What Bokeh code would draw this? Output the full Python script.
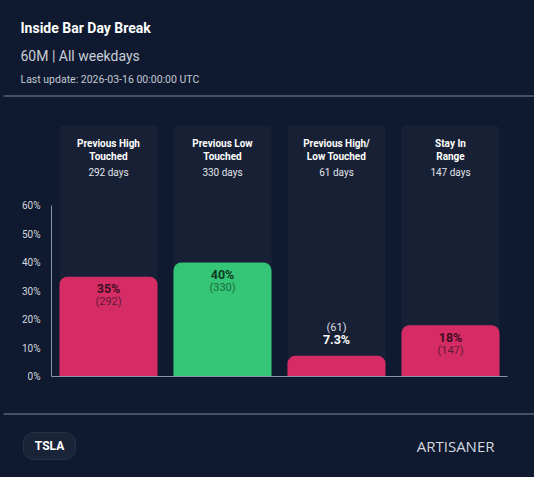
from bokeh.plotting import figure
from bokeh.models import (Range1d, ColumnDataSource, PrintfTickFormatter, FixedTicker,
                          LinearAxis)
from bokeh.core.properties import value
from bokeh.embed import file_html
from bokeh.resources import INLINE

# ---- data ----
categories = ["Previous High Touched", "Previous Low Touched",
              "Previous High/Low Touched", "Stay In Range"]
header_lines = ["Previous High\nTouched", "Previous Low\nTouched",
                "Previous High/\nLow Touched", "Stay In\nRange"]
day_counts = [292, 330, 61, 147]
percentages = [35, 40, 7.3, 18]
bar_colors = ["#d62c66", "#34c577", "#d62c66", "#d62c66"]
y_ticks = [0, 10, 20, 30, 40, 50, 60]

BG = "#0f1a30"
PANEL = "#172034"
RULE = "#7c8696"
AXIS = "#8a93a2"
FONT = value("Roboto")
W, H = 534, 477

# chart area on the page: left/right edge of the category band, baseline row
LEFT, RIGHT, BOTTOM = 51, 507, 376
STEP = (RIGHT - LEFT) / len(categories)   # pixels per category slot
PX_PER_PCT = 2.85                          # pixels per percentage point
PANEL_TOP = 88                             # top of the column panels, in %

# x in category slots (slot i spans i..i+1), y in percent
p = figure(width=W, height=H, toolbar_location=None, output_backend="svg",
           x_range=Range1d(-LEFT / STEP, (W - LEFT) / STEP),
           y_range=Range1d(-(H - BOTTOM) / PX_PER_PCT, BOTTOM / PX_PER_PCT),
           x_axis_location=None, y_axis_location=None,
           min_border=0, min_border_left=0, min_border_right=0,
           min_border_top=0, min_border_bottom=0)
p.title.visible = False
p.background_fill_color = BG
p.border_fill_color = BG
p.outline_line_color = None
p.grid.visible = False
p.styles = {"background-color": BG}


def dx(px):
    # page pixel column -> slot units
    return (px - LEFT) / STEP


def dy(py):
    # page pixel row -> percent units
    return (BOTTOM - py) / PX_PER_PCT


def caption(x, y, text, size, color, bold=False, align="left", font=FONT):
    p.text(x=[dx(x)], y=[dy(y)], text=[text], text_font=font, text_font_size=size,
           text_color=color, text_font_style="bold" if bold else "normal",
           text_align=align, text_baseline="middle")


def rule(y):
    p.segment(x0=[dx(3)], y0=[dy(y)], x1=[dx(W)], y1=[dy(y)], line_color=RULE,
              line_width=1)


# ---- header ----
caption(20, 27, "Inside Bar Day Break", "14px", "#ffffff", bold=True)
caption(20, 55, "60M | All weekdays", "14px", "#c9ced6")
caption(20, 79, "Last update: 2026-03-16 00:00:00 UTC", "10.5px", "#c3c8d0")
rule(95.5)

# ---- chart ----
slots = [i + 0.5 for i in range(len(categories))]
inside = [v >= 12 for v in percentages]
src = ColumnDataSource(dict(
    x=slots,
    cat=categories,
    pct=percentages,
    color=bar_colors,
    header=header_lines,
    days=[f"{d} days" for d in day_counts],
    pct_text=[f"{v:g}%" for v in percentages],
    cnt_text=[f"({d})" for d in day_counts],
    pct_off=[12 if i else -16 for i in inside],
    cnt_off=[25 if i else -28 for i in inside],
    pct_color=["#3b0f20" if i and c == "#d62c66" else ("#0e3a22" if i else "#ffffff")
               for i, c in zip(inside, bar_colors)],
    cnt_color=["#5e1a33" if i and c == "#d62c66" else ("#1d6a40" if i else "#d9dde3")
               for i, c in zip(inside, bar_colors)],
))

# column panels behind each bar
p.vbar(x="x", top=PANEL_TOP, bottom=0, width=0.86, fill_color=PANEL,
       line_color=None, border_radius=4, source=src)

p.vbar(x="x", top="pct", bottom=0, width=0.86, fill_color="color",
       line_color=None, border_radius=(8, 8, 0, 0), source=src)

# panel headers
p.text(x="x", y=PANEL_TOP, text="header", y_offset=12, source=src,
       text_font=FONT, text_font_style="bold", text_font_size="10px",
       text_color="#ffffff", text_align="center", text_baseline="top",
       text_line_height=1.2)
p.text(x="x", y=PANEL_TOP, text="days", y_offset=47, source=src,
       text_font=FONT, text_font_size="10px", text_color="#e1e5eb",
       text_align="center", text_baseline="middle")

# value labels
p.text(x="x", y="pct", text="pct_text", y_offset="pct_off", source=src,
       text_font=FONT, text_font_style="bold", text_font_size="12.5px",
       text_color="pct_color", text_align="center", text_baseline="middle")
p.text(x="x", y="pct", text="cnt_text", y_offset="cnt_off", source=src,
       text_font=FONT, text_font_size="11px", text_color="cnt_color",
       text_align="center", text_baseline="middle")

# percent axis, pinned to the left edge of the first slot
yax = LinearAxis(fixed_location=0, bounds=(0, 60), ticker=FixedTicker(ticks=y_ticks),
                 formatter=PrintfTickFormatter(format="%d%%"))
yax.major_tick_line_color = None
yax.minor_tick_line_color = None
yax.major_tick_out = 0
yax.major_tick_in = 0
yax.major_label_standoff = 11
yax.axis_line_color = AXIS
yax.major_label_text_color = "#d3d7de"
yax.major_label_text_font = "Roboto"
yax.major_label_text_font_size = "10px"
p.add_layout(yax, "left")

# baseline under the bars
xax = LinearAxis(fixed_location=0, bounds=(0, len(categories)),
                 ticker=FixedTicker(ticks=[]))
xax.axis_line_color = AXIS
xax.major_tick_line_color = None
xax.minor_tick_line_color = None
xax.major_tick_out = 0
xax.major_tick_in = 0
p.add_layout(xax, "below")

# ---- footer ----
rule(413.5)
p.quad(left=[dx(23)], right=[dx(75)], top=[dy(432)], bottom=[dy(459)],
       fill_color="#1a2438", line_color="#273146", line_width=1, border_radius=10)
caption(49, 445.5, "TSLA", "12px", "#ffffff", bold=True, align="center")
caption(494, 445.5, "ARTISANER", "15px", "#d4d8de", align="right",
        font=value("Open Sans"))

open("out.html", "w").write(file_html(p, INLINE))
